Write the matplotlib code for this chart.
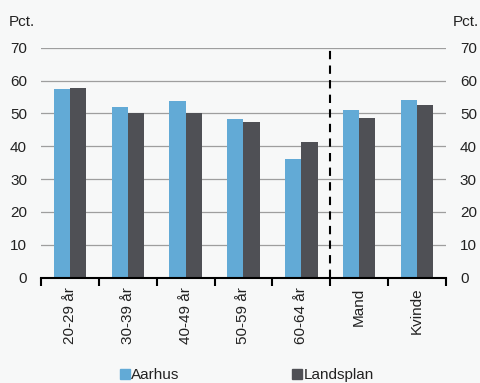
import matplotlib
matplotlib.use("Agg")
import matplotlib.pyplot as plt
import numpy as np
from matplotlib.patches import Patch

plt.rcParams['font.family'] = ['Liberation Sans', 'DejaVu Sans']

categories = ["20-29 år", "30-39 år", "40-49 år", "50-59 år", "60-64 år", "Mand", "Kvinde"]
aarhus = [57.3, 51.9, 53.8, 48.4, 36.0, 51.0, 54.2]
landsplan = [57.7, 50.1, 50.0, 47.5, 41.2, 48.5, 52.6]
yticks = [0, 10, 20, 30, 40, 50, 60, 70]

bg = "#f7f8f8"
c_a = "#62aad6"
c_l = "#4f5055"
fs = 11

fig = plt.figure(figsize=(4.81, 3.83), dpi=100, facecolor=bg)
ax = fig.add_axes([41/481, 1-277.7/383, (446-41)/481, (277.7-47.7)/383])
ax.set_facecolor(bg)

x = np.arange(len(categories))
w = 0.28
ax.bar(x - w/2, aarhus, w, color=c_a, zorder=3)
ax.bar(x + w/2, landsplan, w, color=c_l, zorder=3)

ax.set_xlim(-0.5, len(categories) - 0.5)
ax.set_ylim(0, 70)
ax.set_yticks(yticks)
ax.grid(axis='y', color='#9e9e9e', linewidth=0.9, zorder=0)
ax.tick_params(axis='y', length=0, labelsize=fs, pad=10, colors='#222222', labelright=True)
for s in ['top', 'left', 'right']:
    ax.spines[s].set_visible(False)
ax.spines['bottom'].set_linewidth(1.5)
ax.spines['bottom'].set_zorder(4)

ax.set_xticks(np.arange(len(categories) + 1) - 0.5, minor=False)
ax.set_xticklabels([])
ax.tick_params(axis='x', which='major', length=6, width=1.5, direction='out')
ax.set_xticks(x, minor=True)
ax.set_xticklabels(categories, minor=True, rotation=90, fontsize=fs, color='#222222')
ax.tick_params(axis='x', which='minor', length=0, pad=7)

ax.axvline(4.5, color='black', linestyle=(0, (4, 3)), linewidth=1.5, zorder=4)

fig.text(9/481, 1-26/383, "Pct.", fontsize=fs, ha='left', va='baseline', color='#222222')
fig.text(479/481, 1-26/383, "Pct.", fontsize=fs, ha='right', va='baseline', color='#222222')

for col, lab, xl in [(c_a, "Aarhus", 120), (c_l, "Landsplan", 292)]:
    fig.legend(handles=[Patch(color=col, label=lab)], loc='center left',
               bbox_to_anchor=(xl/481, 1-375/383), frameon=False, fontsize=fs,
               handlelength=0.65, handleheight=0.65, handletextpad=0.1,
               borderaxespad=0, borderpad=0, labelcolor='#222222')

fig.savefig("out.png", dpi=100, facecolor=bg)
